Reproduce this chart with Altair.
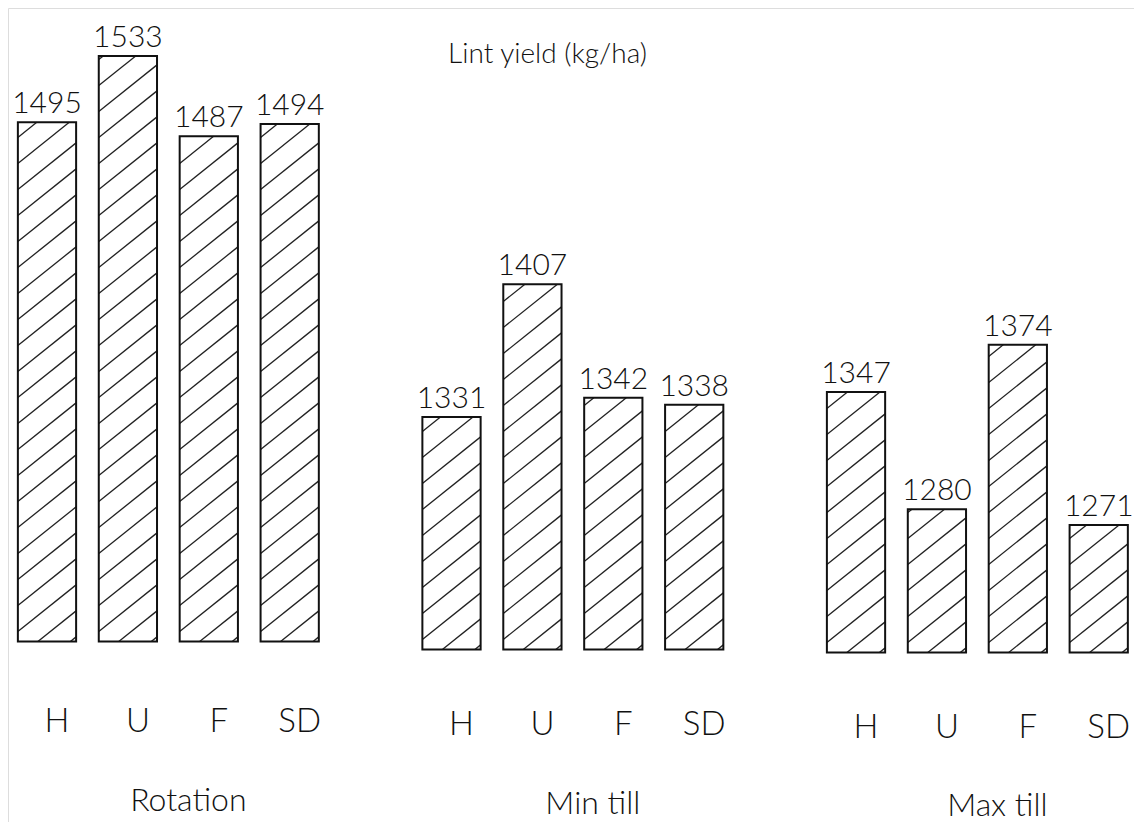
import altair as alt
import pandas as pd
import numpy as np

# ---------------- data ----------------
groups = ["Rotation", "Min till", "Max till"]
treatments = ["H", "U", "F", "SD"]
rotation_yield = [1495, 1533, 1487, 1494]
min_till_yield = [1331, 1407, 1342, 1338]
max_till_yield = [1347, 1280, 1374, 1271]
title_text = "Lint yield (kg/ha)"
baseline_value = 1198  # value at which the drawn bars start

# ---------------- layout / style ----------------
W, H = 1126, 814
X_DOM = [-0.482, 13.436]
Y_DOM = [1099.3, 1565.0]
HALF = 0.36            # half bar width in slot units
INK = "#111111"
FONT = "Lato"
WEIGHT = 300
SLOPE = 0.8            # hatch slope (px up per px right)
SPACING = 26           # vertical px between hatch lines
PHASE = 10
BAR_SHIFT = {"Rotation": -8, "Min till": 0, "Max till": 3}
LETTER_SHIFT = {"Rotation": -3, "Min till": 0, "Max till": 3}
NAME_SHIFT = {"Rotation": -3, "Min till": 0, "Max till": 2}
LETTER_Y = 1154.8
NAME_Y = 1109.8
TITLE_X = 4.957
TITLE_Y = 1533.5

rows = []
for gi, (g, vals) in enumerate(zip(groups, [rotation_yield, min_till_yield, max_till_yield])):
    for ti, (t, v) in enumerate(zip(treatments, vals)):
        rows.append(dict(group=g, treatment=t, value=v, pos=gi * 5 + ti))
df = pd.DataFrame(rows)

px_x = W / (X_DOM[1] - X_DOM[0])
px_y = H / (Y_DOM[1] - Y_DOM[0])

hatch_rows = []
for r in rows:
    left = r["pos"] - HALF
    wpx = 2 * HALF * px_x
    hpx = (r["value"] - baseline_value) * px_y
    b = PHASE - np.ceil((PHASE + SLOPE * wpx) / SPACING) * SPACING
    while b < hpx:
        xa = max(0.0, -b / SLOPE)
        xb = min(wpx, (hpx - b) / SLOPE)
        if xb - xa > 2:
            hatch_rows.append(dict(
                group=r["group"],
                xa=left + xa / px_x, xb=left + xb / px_x,
                ya=baseline_value + (SLOPE * xa + b) / px_y,
                yb=baseline_value + (SLOPE * xb + b) / px_y))
        b += SPACING
hatch = pd.DataFrame(hatch_rows)

xs = alt.Scale(domain=X_DOM, nice=False, zero=False)
ys = alt.Scale(domain=Y_DOM, nice=False, zero=False)

layers = []
for gi, g in enumerate(groups):
    sub = df[df.group == g]
    o = BAR_SHIFT[g]
    hl = alt.Chart(hatch[hatch.group == g]).mark_rule(
        color="#222222", strokeWidth=1.3, yOffset=o, y2Offset=o
    ).encode(
        x=alt.X("xa:Q", scale=xs, axis=None), x2="xb:Q",
        y=alt.Y("ya:Q", scale=ys, axis=None), y2="yb:Q")
    rect = alt.Chart(sub).transform_calculate(
        x0=f"datum.pos - {HALF}", x1=f"datum.pos + {HALF}"
    ).mark_rect(
        fill="white", fillOpacity=0, stroke=INK, strokeWidth=2, yOffset=o, y2Offset=o
    ).encode(
        x=alt.X("x0:Q", scale=xs, axis=None), x2="x1:Q",
        y=alt.Y("value:Q", scale=ys, axis=None),
        y2=alt.datum(baseline_value))
    vals = alt.Chart(sub).mark_text(
        font=FONT, fontWeight=WEIGHT, fontSize=30, color=INK, baseline="alphabetic",
        dy=-9, yOffset=o
    ).encode(
        x=alt.X("pos:Q", scale=xs, axis=None),
        y=alt.Y("value:Q", scale=ys, axis=None),
        text="value:Q")
    letters = alt.Chart(sub).mark_text(
        font=FONT, fontWeight=WEIGHT, fontSize=33, color=INK, baseline="middle",
        dx=10, yOffset=LETTER_SHIFT[g]
    ).encode(
        x=alt.X("pos:Q", scale=xs, axis=None),
        y=alt.YDatum(LETTER_Y, type="quantitative", scale=ys, axis=None),
        text="treatment:N")
    name_df = pd.DataFrame({"group": [g], "center": [gi * 5 + 1.5]})
    name = alt.Chart(name_df).mark_text(
        font=FONT, fontWeight=WEIGHT, fontSize=32, color=INK, baseline="middle",
        dx=20, yOffset=NAME_SHIFT[g]
    ).encode(
        x=alt.X("center:Q", scale=xs, axis=None),
        y=alt.YDatum(NAME_Y, type="quantitative", scale=ys, axis=None),
        text="group:N")
    layers += [hl, rect, vals, letters, name]

title = alt.Chart(pd.DataFrame({"t": [title_text]})).mark_text(
    font=FONT, fontWeight=WEIGHT, fontSize=28, color=INK, align="left",
    baseline="alphabetic"
).encode(
    x=alt.XDatum(TITLE_X, type="quantitative", scale=xs, axis=None),
    y=alt.YDatum(TITLE_Y, type="quantitative", scale=ys, axis=None),
    text="t:N")
layers.append(title)

chart = alt.layer(*layers).properties(
    width=W, height=H, padding=0, autosize=alt.AutoSizeParams(type="none")
).configure_view(strokeWidth=0, strokeOpacity=0).configure(background="white")

chart.save("out.html", embed_options={"renderer": "svg", "actions": False})
